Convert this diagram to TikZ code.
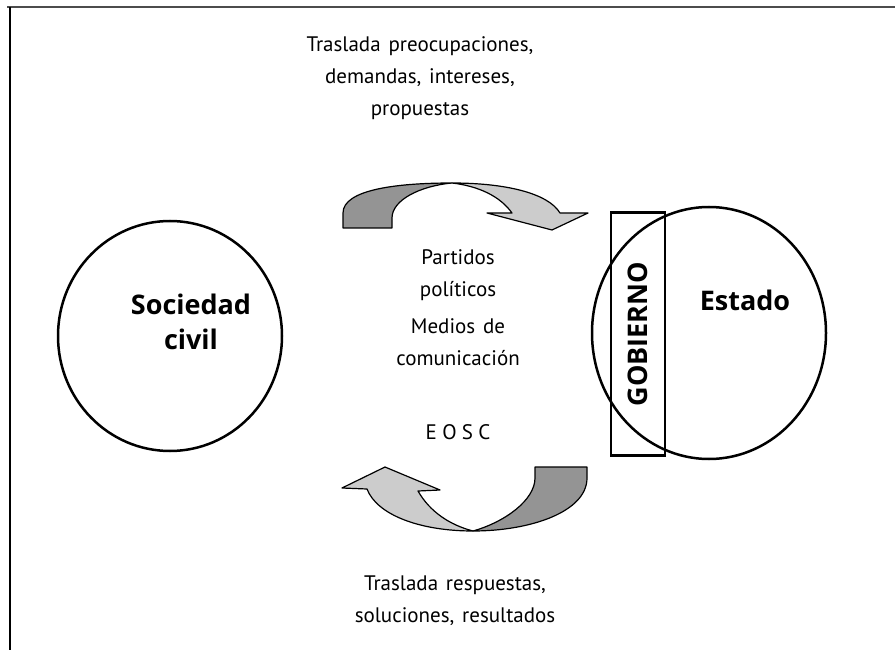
\documentclass[tikz,border=0pt]{standalone}
\usepackage{fontspec}
\setmainfont[WordSpace=1.4]{PT Sans}
\newfontfamily\headfont{Open Sans}
\usetikzlibrary{shapes.geometric}

\begin{document}
\begin{tikzpicture}[x=1pt, y=-1pt,
      every node/.style = {align=center, font=\fontsize{21}{32}\selectfont},
      ring/.style = {ellipse, draw, line width=2.5pt, inner sep=0pt},
      bold/.style = {font=\headfont\fontsize{27}{35}\selectfont\bfseries},
      darkband/.style = {draw, line width=1.2pt, line join=round, fill=black!42},
      lightband/.style = {draw, line width=1.2pt, line join=round, fill=black!20}
      ]
      \useasboundingbox (0,0) rectangle (895,650);
      % frame
      \draw[black!70, line width=2pt] (7,7) -- (895,7);
      \draw[line width=1.5pt] (10,7) -- (10,650);

      % the two spheres
      \node[ring, minimum width=224pt, minimum height=230pt] (soc) at (170,336) {};
      \node[ring, minimum width=234pt, minimum height=252pt] (est) at (709,333) {};
      \node[bold] (soclbl) at (191,322) {Sociedad\\civil};
      \node[bold] (estlbl) at (745,300) {Estado};
      \node[bold, draw, line width=2.5pt, rotate=90,
            minimum width=243pt, minimum height=54pt] (gob) at (638,334) {GOBIERNO};

      % upper arrow
      \path[lightband] (452,183) .. controls (505,183) and (548,193) .. (560,213)
            -- (588,213) -- (552,230) -- (487,213) -- (512,213)
            .. controls (500,196) and (478,186) .. (452,183) -- cycle;
      \path[darkband] (343,228) -- (343,213) .. controls (343,190) and (395,183) .. (452,183)
            .. controls (420,186) and (392,200) .. (392,218) -- (392,228) -- cycle;

      % lower arrow
      \path[lightband] (473,531) .. controls (420,531) and (377,515) .. (367,489)
            -- (342,488) -- (385,467) -- (440,490) -- (418,491)
            .. controls (430,512) and (450,525) .. (473,531) -- cycle;
      \path[darkband] (587,467) -- (587,478) .. controls (587,512) and (530,531) .. (473,531)
            .. controls (505,522) and (535,500) .. (535,478) -- (535,467) -- cycle;

      % texts
      \node (tpre) at (420,78) {Traslada preocupaciones,\\demandas, intereses,\\propuestas};
      \node (part) at (458,275) {Partidos\\políticos};
      \node (medi) at (458,342) {Medios de\\comunicación};
      \node (eosc) at (458,432) {\addfontfeature{LetterSpace=25}EOSC};
      \node (tres) at (455,601) {Traslada respuestas,\\soluciones, resultados};
\end{tikzpicture}
\end{document}
